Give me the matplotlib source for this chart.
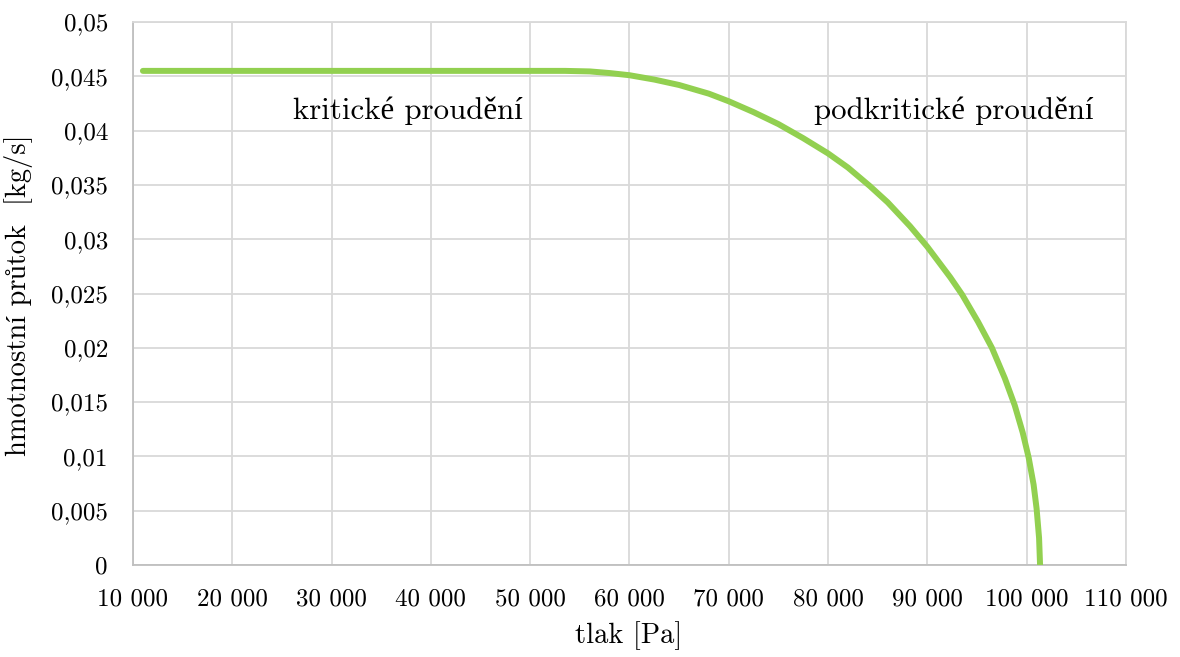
import matplotlib
matplotlib.use("Agg")
import matplotlib.pyplot as plt

tlak_pa = [11000, 20000, 30000, 40000, 50000, 53500, 56000, 58000, 60000,
           62500, 65000, 68000, 70000, 72500, 75000, 77500, 80000, 82000,
           84200, 86000, 88250, 90000, 92300, 93500, 95100, 96500, 97800,
           98800, 99600, 100200, 100700, 101000, 101250, 101350]
prutok_kgs = [0.0455, 0.0455, 0.0455, 0.0455, 0.0455, 0.0455, 0.04545, 0.0453,
              0.0451, 0.0447, 0.0442, 0.0434, 0.0427, 0.0417, 0.0406, 0.0393,
              0.0379, 0.0366, 0.0349, 0.0334, 0.0312, 0.0293, 0.0265, 0.0249,
              0.0224, 0.0200, 0.0172, 0.0147, 0.0122, 0.0099, 0.0074, 0.0052,
              0.0025, 0.0]

x_ticks = list(range(10000, 110001, 10000))
x_labels = ["10 000", "20 000", "30 000", "40 000", "50 000", "60 000",
            "70 000", "80 000", "90 000", "100 000", "110 000"]
y_ticks = [0, 0.005, 0.01, 0.015, 0.02, 0.025, 0.03, 0.035, 0.04, 0.045, 0.05]
y_labels = ["0", "0,005", "0,01", "0,015", "0,02", "0,025", "0,03", "0,035",
            "0,04", "0,045", "0,05"]

plt.rcParams["font.family"] = ["cmr10", "Liberation Serif"]

fig = plt.figure(figsize=(11.8, 6.57), dpi=100)
ax = fig.add_axes([0.1127, 0.14, 0.8415, 0.8265])

ax.plot(tlak_pa, prutok_kgs, color="#92D050", linewidth=4.3,
        solid_capstyle="round", solid_joinstyle="round", zorder=3)

ax.set_xlim(10000, 110000)
ax.set_ylim(0, 0.05)
ax.set_xticks(x_ticks)
ax.set_xticklabels(x_labels)
ax.set_yticks(y_ticks)
ax.set_yticklabels(y_labels)
ax.tick_params(length=0, labelsize=18)
ax.tick_params(axis="y", pad=18)
ax.tick_params(axis="x", pad=17)

ax.grid(True, color="#D9D9D9", linewidth=1.3)
for side in ["top", "right"]:
    ax.spines[side].set_color("#D9D9D9")
    ax.spines[side].set_linewidth(1.3)
for side in ["left", "bottom"]:
    ax.spines[side].set_color("#BFBFBF")
    ax.spines[side].set_linewidth(1.3)

ax.set_xlabel("tlak [Pa]", fontsize=20.5)
ax.set_ylabel("hmotnostní průtok  [kg/s]", fontsize=20.5)
ax.xaxis.set_label_coords(0.4995, -0.103)
ax.yaxis.set_label_coords(-0.1007, 0.497)

ax.text(37700, 0.0418, "kritické proudění", fontsize=22.2, ha="center", va="center")
ax.text(92700, 0.0418, "podkritické proudění", fontsize=22.2, ha="center", va="center")

fig.savefig("out.png", dpi=100)
